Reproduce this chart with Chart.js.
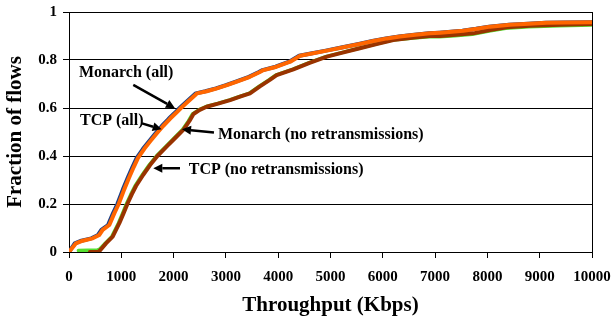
<!DOCTYPE html>
<html>
<head>
<meta charset="utf-8">
<script src="https://cdn.jsdelivr.net/npm/chart.js@4/dist/chart.umd.min.js"></script>
<style>
  html, body { margin: 0; padding: 0; background: #fff; }
  canvas { display: block; }
</style>
</head>
<body>
<canvas id="cdf" width="613" height="324"></canvas>
<script>
// Throughput CDF: fraction of flows vs. throughput (Kbps)
const xTickLabels = ['0','1000','2000','3000','4000','5000','6000','7000','8000','9000','10000'];
const yTickLabels = ['0','0.2','0.4','0.6','0.8','1'];

const monarchAllX = [0,110,237,428,555,619,746,841,925,1033,1125,1215,1295,1415,1535,1655,1775,1906,2025,2115,2225,2352,2425,2608,2810,3000,3190,3440,3630,3700,3950,4210,4400,4650,4910,5230,5540,5800,6060,6310,6560,6880,7080,7520,7780,8030,8410,8780,9110,9480,10000];
const monarchAllY = [0,0.036,0.047,0.057,0.071,0.092,0.1125,0.161,0.20,0.262,0.31,0.355,0.392,0.43,0.463,0.495,0.525,0.555,0.58,0.60,0.622,0.647,0.661,0.67,0.682,0.695,0.71,0.73,0.75,0.758,0.772,0.793,0.818,0.828,0.839,0.853,0.867,0.879,0.89,0.898,0.904,0.911,0.914,0.922,0.93,0.939,0.947,0.951,0.955,0.956,0.957];

const tcpAllX = [0,134,262,453,580,644,771,866,950,1058,1150,1240,1320,1440,1560,1680,1800,1931,2050,2140,2250,2377,2450,2633,2830,3020,3210,3460,3650,3720,3970,4230,4420,4670,4930,5250,5560,5820,6080,6330,6580,6900,7100,7540,7800,8050,8430,8800,9130,9500,10000];
const tcpAllY = [0,0.036,0.047,0.057,0.071,0.092,0.1125,0.161,0.20,0.262,0.31,0.355,0.392,0.43,0.463,0.495,0.525,0.555,0.58,0.60,0.622,0.647,0.661,0.67,0.682,0.695,0.71,0.73,0.75,0.758,0.772,0.793,0.818,0.828,0.839,0.853,0.867,0.879,0.89,0.898,0.904,0.911,0.914,0.922,0.93,0.939,0.947,0.951,0.955,0.956,0.957];

const monarchNoRtxX = [180,540,585,690,818,945,1022,1104,1182,1263,1402,1532,1672,1852,2012,2172,2282,2362,2482,2612,2832,3062,3252,3442,3632,3822,3952,4272,4582,4912,5232,5542,5862,6182,6582,6882,7082,7382,7712,8032,8352,8792,9382,10000];
const monarchNoRtxY = [0.006,0.008,0.012,0.036,0.064,0.12,0.16,0.203,0.24,0.275,0.322,0.362,0.40,0.44,0.475,0.51,0.545,0.575,0.592,0.605,0.618,0.633,0.647,0.661,0.69,0.717,0.737,0.761,0.788,0.814,0.832,0.849,0.866,0.883,0.892,0.897,0.897,0.901,0.907,0.921,0.932,0.939,0.943,0.946];

const tcpNoRtxX = [400,560,600,707,835,962,1040,1122,1200,1281,1420,1550,1690,1870,2030,2190,2300,2380,2500,2630,2850,3080,3270,3460,3650,3840,3970,4290,4600,4930,5250,5560,5880,6200,6600,6900,7100,7400,7730,8050,8370,8810,9400,10000];
const tcpNoRtxY = [0,0,0.008,0.036,0.064,0.12,0.16,0.203,0.24,0.275,0.322,0.362,0.40,0.44,0.475,0.51,0.545,0.575,0.592,0.605,0.618,0.633,0.647,0.661,0.69,0.717,0.737,0.761,0.788,0.814,0.832,0.849,0.866,0.883,0.894,0.90,0.90,0.905,0.911,0.925,0.936,0.943,0.947,0.95];

// Callout labels with arrows, placed in data units
const callouts = [
  { text: 'Monarch (all)', at: [191, 0.746], from: [1229, 0.696], to: [2027, 0.599] },
  { text: 'TCP (all)', at: [210, 0.546], from: [1396, 0.536], to: [1772, 0.511] },
  { text: 'Monarch (no retransmissions)', at: [2849, 0.4875], from: [2772, 0.498], to: [2161, 0.511] },
  { text: 'TCP (no retransmissions)', at: [2289, 0.342], from: [2122, 0.349], to: [1612, 0.349] }
];

const FONT = "'Liberation Serif', 'Times New Roman', serif";
const pts = (xs, ys) => xs.map((x, i) => ({ x: x, y: ys[i] }));

const frameAndCallouts = {
  id: 'frameAndCallouts',
  afterDatasetsDraw(chart) {
    const { ctx, chartArea: a, scales: { x, y } } = chart;
    ctx.save();
    // right edge of the plot frame
    ctx.strokeStyle = '#000';
    ctx.lineWidth = 1;
    ctx.beginPath();
    ctx.moveTo(Math.round(a.right) + 0.5, a.top);
    ctx.lineTo(Math.round(a.right) + 0.5, a.bottom);
    ctx.stroke();

    ctx.font = 'bold 16px ' + FONT;
    ctx.fillStyle = '#000';
    ctx.textBaseline = 'middle';
    ctx.textAlign = 'left';
    callouts.forEach(c => {
      ctx.fillText(c.text, x.getPixelForValue(c.at[0]), y.getPixelForValue(c.at[1]));
      const x0 = x.getPixelForValue(c.from[0]), y0 = y.getPixelForValue(c.from[1]);
      const x1 = x.getPixelForValue(c.to[0]), y1 = y.getPixelForValue(c.to[1]);
      const ang = Math.atan2(y1 - y0, x1 - x0);
      const head = 9, half = 4.5;
      const bx = x1 - head * Math.cos(ang), by = y1 - head * Math.sin(ang);
      ctx.lineWidth = 2.5;
      ctx.beginPath();
      ctx.moveTo(x0, y0);
      ctx.lineTo(bx, by);
      ctx.stroke();
      ctx.beginPath();
      ctx.moveTo(x1, y1);
      ctx.lineTo(bx + half * Math.sin(ang), by - half * Math.cos(ang));
      ctx.lineTo(bx - half * Math.sin(ang), by + half * Math.cos(ang));
      ctx.closePath();
      ctx.fill();
    });
    ctx.restore();
  }
};

const lineStyle = (color, width, order) => ({
  borderColor: color, backgroundColor: color, borderWidth: width,
  pointRadius: 0, tension: 0, fill: false, order: order,
  borderJoinStyle: 'round', borderCapStyle: 'round'
});

new Chart(document.getElementById('cdf'), {
  type: 'line',
  data: {
    datasets: [
      Object.assign({ label: 'Monarch (all)', data: pts(monarchAllX, monarchAllY) }, lineStyle('#1b3f86', 4, 2)),
      Object.assign({ label: 'TCP (all)', data: pts(tcpAllX, tcpAllY) }, lineStyle('#ff6600', 4, 0)),
      Object.assign({ label: 'Monarch (no retransmissions)', data: pts(monarchNoRtxX, monarchNoRtxY) }, lineStyle('#55e030', 3.5, 3)),
      Object.assign({ label: 'TCP (no retransmissions)', data: pts(tcpNoRtxX, tcpNoRtxY) }, lineStyle('#993300', 4, 1))
    ]
  },
  options: {
    responsive: false,
    animation: false,
    devicePixelRatio: 1,
    layout: { padding: { left: 0, right: 21, top: 12, bottom: 0 } },
    plugins: { legend: { display: false }, tooltip: { enabled: false } },
    scales: {
      x: {
        type: 'linear', min: 0, max: 10000,
        afterFit(s) { s.height = 72; s.paddingLeft = 0; s.paddingRight = 0; },
        border: { display: true, color: '#000', width: 1 },
        grid: { display: true, drawOnChartArea: false, drawTicks: true, tickLength: 6, color: '#000' },
        ticks: {
          stepSize: 1000, padding: 10, color: '#000', maxRotation: 0, autoSkip: false,
          font: { family: FONT, size: 15, weight: 'bold' },
          callback: (v, i) => xTickLabels[i]
        },
        title: {
          display: true, text: 'Throughput (Kbps)', color: '#000',
          font: { family: FONT, size: 21, weight: 'bold' }, padding: { top: 0, bottom: 6 }
        }
      },
      y: {
        type: 'linear', min: 0, max: 1,
        afterFit(s) { s.width = 69; s.paddingTop = 0; s.paddingBottom = 0; },
        border: { display: true, color: '#000', width: 1 },
        grid: { display: true, drawOnChartArea: true, drawTicks: true, tickLength: 6, color: '#000', lineWidth: 1 },
        ticks: {
          stepSize: 0.2, padding: 6, color: '#000',
          font: { family: FONT, size: 15, weight: 'bold' },
          callback: (v, i) => yTickLabels[i]
        },
        title: {
          display: true, text: 'Fraction of flows', color: '#000',
          font: { family: FONT, size: 21, weight: 'bold' }, padding: { top: 3, bottom: 0 }
        }
      }
    }
  },
  plugins: [frameAndCallouts]
});
</script>
</body>
</html>
